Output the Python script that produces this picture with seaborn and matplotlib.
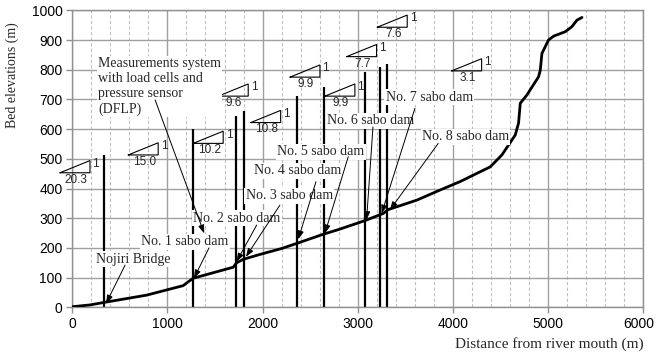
import numpy as np
import pandas as pd
import matplotlib
matplotlib.use('Agg')
import matplotlib.pyplot as plt
import matplotlib.transforms as mtransforms
import seaborn as sns

# ---- data ----
distance = [0, 186, 344, 782, 1166, 1219, 1272, 1692, 1727, 1800, 1972, 2200,
            2358, 2638, 2800, 3076, 3268, 3320, 3622, 3866, 4074, 4393, 4515,
            4655, 4690, 4708, 4778, 4900, 4918, 4936, 5005, 5058, 5181, 5251,
            5304, 5357]
elevation = [2, 8, 17, 41, 73, 86, 98, 135, 150, 162, 178, 198,
             215, 246, 262, 292, 316, 329, 361, 395, 423, 473, 513,
             580, 620, 687, 715, 776, 798, 855, 900, 913, 928, 945,
             967, 976]

structure_x = [336, 1266, 1721, 1805, 2360, 2647, 3078, 3236, 3312]
structure_top = [513, 599, 644, 661, 711, 742, 792, 810, 819]

slope_labels = ['20.3', '15.0', '10.2', '9.6', '10.8', '9.9', '9.9', '7.7', '7.6', '3.1']
slope_x = [-129, 588, 1271, 1534, 1875, 2288, 2655, 2883, 3205, 3987]
slope_y = [453, 513, 552, 711, 622, 775, 711, 844, 943, 796]

note_texts = ['Measurements system\nwith load cells and\npressure sensor\n(DFLP)',
              'Nojiri Bridge', 'No. 1 sabo dam', 'No. 2 sabo dam', 'No. 3 sabo dam',
              'No. 4 sabo dam', 'No. 5 sabo dam', 'No. 6 sabo dam', 'No. 7 sabo dam',
              'No. 8 sabo dam']
note_x = [270, 638, 1185, 1731, 2282, 2372, 2613, 3139, 3753, 4132]
note_y = [743, 162, 221, 300, 376, 460, 524, 628, 707, 574]
arrow_from_x = [871, 555, 1437, 1938, 2182, 2561, 2900, 3160, 3601, 3846]
arrow_from_y = [698, 142, 200, 277, 344, 423, 507, 607, 670, 552]
arrow_to_x = [1386, 355, 1279, 1727, 1825, 2375, 2655, 3093, 3251, 3338]
arrow_to_y = [249, 13, 98, 154, 170, 229, 249, 294, 316, 328]

x_ticks = [0, 1000, 2000, 3000, 4000, 5000, 6000]
x_minor = [200, 400, 600, 800, 1200, 1400, 1600, 1800, 2200, 2400, 2600, 2800,
           3200, 3400, 3600, 3800, 4200, 4400, 4600, 4800, 5200, 5400, 5600, 5800]
y_ticks = [0, 100, 200, 300, 400, 500, 600, 700, 800, 900, 1000]

SERIF = 'Liberation Serif'
SANS = 'Liberation Sans'

sns.set_style('white')
plt.rcParams['font.family'] = [SANS, 'DejaVu Sans']

fig = plt.figure(figsize=(6.57, 3.58), dpi=100)
ax = fig.add_axes([0.110, 0.1416, 0.869, 0.8296])

# minor dashed grid (drawn as lines, below everything)
ax.vlines(x_minor, 0, 1000, colors='#c0c0c0', lw=0.8, linestyles=(0, (3, 2)),
          zorder=0.5)

# structure lines
ax.vlines(structure_x, 0, structure_top, colors='black', lw=1.6, zorder=2)

# bed profile
df = pd.DataFrame({'distance': distance, 'elevation': elevation})
sns.lineplot(data=df, x='distance', y='elevation', color='black', lw=2.0,
             sort=False, ax=ax, zorder=3)

ax.set_xlim(0, 6000)
ax.set_ylim(0, 1000)
ax.set_xticks(x_ticks)
ax.set_yticks(y_ticks)

ax.set_axisbelow(True)
ax.grid(True, which='major', axis='both', color='#a0a0a0', lw=1.0)

for s in ax.spines.values():
    s.set_color('#909090')
    s.set_linewidth(1.0)
ax.tick_params(axis='both', which='major', direction='out', length=4, width=1,
               color='#909090', labelsize=10, labelcolor='black', pad=3,
               bottom=True, left=True)
for lab in ax.get_xticklabels() + ax.get_yticklabels():
    lab.set_family(SANS)
last = ax.get_xticklabels()[-1]
last.set_transform(last.get_transform() +
                   mtransforms.ScaledTranslation(-4 / 100, 0, fig.dpi_scale_trans))

ax.set_xlabel('Distance from river mouth (m)', family=SERIF, fontsize=11,
              loc='right', labelpad=4)
ax.set_ylabel('Bed elevations (m)', family=SERIF, fontsize=10)
ax.yaxis.set_label_coords(-0.093, 0.782)

# slope triangles
tw, th = 315, 41
for lab, x0, y0 in zip(slope_labels, slope_x, slope_y):
    ax.plot([x0, x0 + tw, x0 + tw, x0], [y0, y0, y0 + th, y0],
            color='black', lw=0.8, clip_on=False, zorder=4, solid_joinstyle='miter')
    ax.text(x0 + tw / 2 + 10, y0 - 3, lab, ha='center', va='top', fontsize=8.5,
            family=SANS, zorder=4)
    ax.text(x0 + tw + 25, y0 + th * 0.72, '1', ha='left', va='center',
            fontsize=8.5, family=SANS, zorder=4)

# labels with arrows
for i, t in enumerate(note_texts):
    if i == 0:
        ax.text(note_x[i], note_y[i], t, ha='left', va='center', fontsize=10,
                family=SERIF, linespacing=1.2, zorder=5,
                bbox=dict(facecolor='white', edgecolor='none', pad=1.0))
    else:
        ax.text(note_x[i], note_y[i], t, ha='center', va='center', fontsize=10,
                family=SERIF, zorder=5,
                bbox=dict(facecolor='white', edgecolor='none', pad=1.0))
    ax.annotate('', xy=(arrow_to_x[i], arrow_to_y[i]),
                xytext=(arrow_from_x[i], arrow_from_y[i]),
                arrowprops=dict(arrowstyle='-|>,head_length=0.5,head_width=0.18',
                                color='black', lw=0.7, shrinkA=0, shrinkB=0),
                zorder=6)

fig.savefig('out.png', dpi=100)
